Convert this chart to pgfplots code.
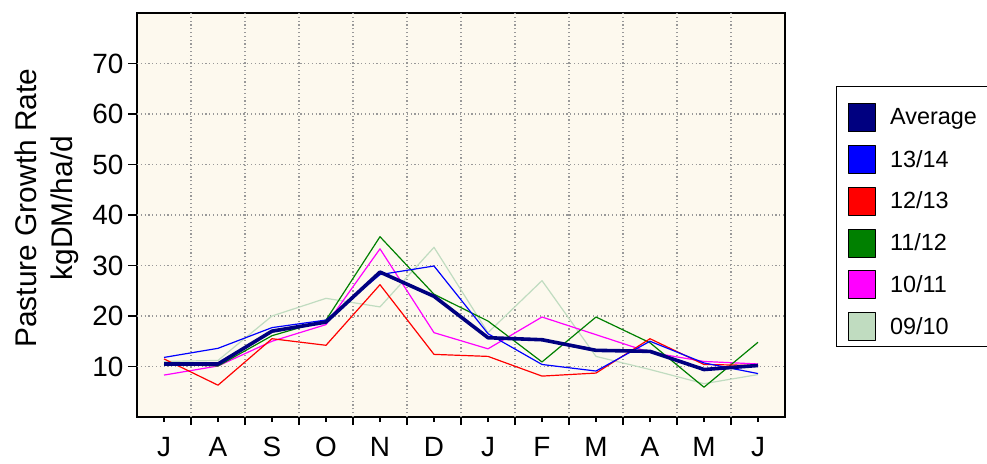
\documentclass[border=0pt]{standalone}
\usepackage{pgfplots}
\pgfplotsset{compat=1.18}
\usepackage{fontspec}
\setmainfont{Liberation Sans}
\definecolor{bgcream}{HTML}{FDF9EE}
\definecolor{cnavy}{HTML}{000080}
\definecolor{cblue}{HTML}{0000FF}
\definecolor{cred}{HTML}{FF0000}
\definecolor{cgreen}{HTML}{008000}
\definecolor{cmag}{HTML}{FF00FF}
\definecolor{clight}{HTML}{C0DCC0}
\begin{document}
\begin{tikzpicture}
\useasboundingbox (0,0) rectangle (987bp,464bp);
\clip (0,0) rectangle (987bp,464bp);
\begin{axis}[
  at={(137bp,47bp)}, anchor=south west,
  width=648bp, height=404bp, scale only axis,
  xmin=-0.5, xmax=11.5, ymin=0, ymax=80,
  axis background/.style={fill=bgcream},
  axis line style={line width=1.6bp, black},
  xtick={0,...,11},
  xticklabels={J,A,S,O,N,D,J,F,M,A,M,J},
  extra x ticks={0.5,1.5,...,10.5},
  extra x tick labels={},
  extra x tick style={grid=major, major tick length=8bp},
  ytick=\empty,
  extra y ticks={10,20,...,70},
  extra y tick style={grid=major, major tick length=9bp},
  minor ytick={5,15,...,75},
  tick align=outside,
  xtick pos=lower, ytick pos=left,
  major tick length=5bp,
  minor tick length=5bp,
  every tick/.style={black, line width=1.3bp},
  major grid style={gray!80, line width=1.1bp, dash pattern=on 1.2bp off 2.6bp},
  /pgf/number format/assume math mode=true,
  ticklabel style={font=\fontsize{28}{30}\selectfont},
  xticklabel style={yshift=-12bp},
  yticklabel style={xshift=-1bp},
  ylabel={Pasture Growth Rate\\kgDM/ha/d},
  ylabel style={font=\fontsize{30}{36}\selectfont, align=center, at={(axis description cs:-0.139,0.517)}, anchor=center, rotate=0},
  every axis plot/.append style={line join=round},
  no marks,
  reverse legend,
  legend cell align=left,
  legend style={at={(1,1)}, anchor=north west, xshift=51bp, yshift=-73bp,
    draw=black, line width=1.2bp, fill=white,
    font=\fontsize{23.5}{26}\selectfont,
    row sep=12.8bp, inner xsep=11bp, inner ysep=5bp},
]
\addplot[clight, line width=1.2bp, legend image code/.code={\draw[draw=black, fill=clight, line width=1bp, solid] (0bp,-14bp) rectangle (27bp,14bp); \path[draw=none, fill=none] (0bp,0bp) rectangle (40bp,1bp);}] coordinates {
(0,11.0) (1,11.2) (2,20.0) (3,23.5) (4,21.8) (5,33.6) (6,16.7) (7,27.0) (8,12.0) (9,9.4) (10,6.6) (11,8.4)};
\addlegendentry{09/10}
\addplot[cmag, line width=1.2bp, legend image code/.code={\draw[draw=black, fill=cmag, line width=1bp, solid] (0bp,-14bp) rectangle (27bp,14bp); \path[draw=none, fill=none] (0bp,0bp) rectangle (40bp,1bp);}] coordinates {
(0,8.3) (1,10.1) (2,15.0) (3,18.3) (4,33.3) (5,16.7) (6,13.5) (7,19.8) (8,16.3) (9,12.8) (10,11.0) (11,10.5)};
\addlegendentry{10/11}
\addplot[cgreen, line width=1.2bp, legend image code/.code={\draw[draw=black, fill=cgreen, line width=1bp, solid] (0bp,-14bp) rectangle (27bp,14bp); \path[draw=none, fill=none] (0bp,0bp) rectangle (40bp,1bp);}] coordinates {
(0,10.5) (1,10.1) (2,16.1) (3,19.2) (4,35.7) (5,24.3) (6,19.0) (7,10.9) (8,19.8) (9,14.7) (10,5.9) (11,14.8)};
\addlegendentry{11/12}
\addplot[cred, line width=1.2bp, legend image code/.code={\draw[draw=black, fill=cred, line width=1bp, solid] (0bp,-14bp) rectangle (27bp,14bp); \path[draw=none, fill=none] (0bp,0bp) rectangle (40bp,1bp);}] coordinates {
(0,11.5) (1,6.3) (2,15.5) (3,14.2) (4,26.2) (5,12.4) (6,12.0) (7,8.1) (8,8.7) (9,15.5) (10,10.4) (11,10.2)};
\addlegendentry{12/13}
\addplot[cblue, line width=1.2bp, legend image code/.code={\draw[draw=black, fill=cblue, line width=1bp, solid] (0bp,-14bp) rectangle (27bp,14bp); \path[draw=none, fill=none] (0bp,0bp) rectangle (40bp,1bp);}] coordinates {
(0,11.8) (1,13.6) (2,17.7) (3,19.2) (4,28.2) (5,29.9) (6,16.5) (7,10.4) (8,9.1) (9,15.0) (10,10.7) (11,8.6)};
\addlegendentry{13/14}
\addplot[cnavy, line width=3.6bp, legend image code/.code={\draw[draw=black, fill=cnavy, line width=1bp, solid] (0bp,-14bp) rectangle (27bp,14bp); \path[draw=none, fill=none] (0bp,0bp) rectangle (40bp,26bp);}] coordinates {
(0,10.5) (1,10.5) (2,17.0) (3,18.8) (4,28.7) (5,23.9) (6,15.7) (7,15.3) (8,13.2) (9,13.0) (10,9.4) (11,10.2)};
\addlegendentry{Average\hspace*{20bp}}
\end{axis}
\end{tikzpicture}
\end{document}
